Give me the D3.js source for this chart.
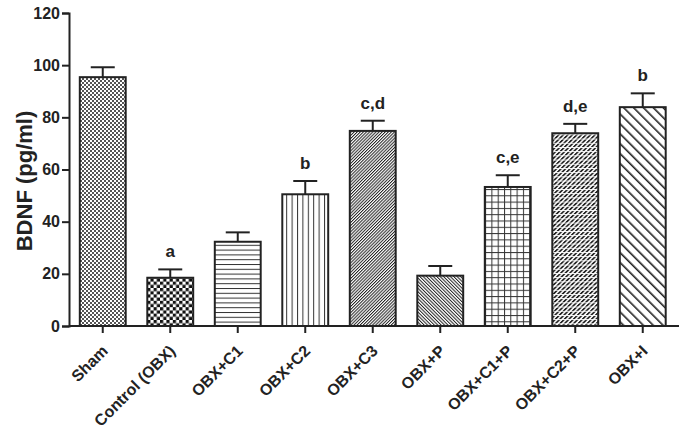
<!DOCTYPE html>
<html><head><meta charset="utf-8">
<script src="https://cdn.jsdelivr.net/npm/d3@7"></script>
<style>
html,body{margin:0;padding:0;background:#fff;}
text{font-family:"Liberation Sans",Arial,sans-serif;font-weight:bold;fill:#222;}
</style></head>
<body>
<svg id="chart" width="684" height="432"></svg>
<script>
const categories = ["Sham","Control (OBX)","OBX+C1","OBX+C2","OBX+C3","OBX+P","OBX+C1+P","OBX+C2+P","OBX+I"];
const means = [95.4, 18.5, 32.3, 50.5, 74.8, 19.3, 53.3, 73.9, 83.9];
const errors = [3.8, 3.2, 3.6, 5.1, 3.9, 3.7, 4.5, 3.6, 5.3];
const sigLabels = ["", "a", "", "b", "c,d", "", "c,e", "d,e", "b"];
const yTicks = [0, 20, 40, 60, 80, 100, 120];
const patterns = ["fineCheck","coarseCheck","hLines","vLines","diagFwd","diagBack","grid","brick","diagBackWide"];

const svg = d3.select("#chart");
const ink = "#222";
const x = d3.scaleBand().domain(categories).range([69, 676.5]).paddingInner(0.32).paddingOuter(0.16);
const y = d3.scaleLinear().domain([0, 120]).range([326, 13]);

const defs = svg.append("defs");
function pat(id, w, h, transform) {
  const p = defs.append("pattern").attr("id", id).attr("patternUnits", "userSpaceOnUse")
    .attr("width", w).attr("height", h);
  if (transform) p.attr("patternTransform", transform);
  p.append("rect").attr("width", w).attr("height", h).attr("fill", "#fff");
  return p;
}
// fine checkerboard
let p = pat("fineCheck", 4, 4);
p.append("rect").attr("x",0).attr("y",0).attr("width",2).attr("height",2).attr("fill","#555");
p.append("rect").attr("x",2).attr("y",2).attr("width",2).attr("height",2).attr("fill","#555");
// coarse checkerboard
p = pat("coarseCheck", 6.4, 6.4);
p.append("rect").attr("x",0).attr("y",0).attr("width",3.2).attr("height",3.2).attr("fill","#111");
p.append("rect").attr("x",3.2).attr("y",3.2).attr("width",3.2).attr("height",3.2).attr("fill","#111");
// horizontal lines
p = pat("hLines", 10, 4.8);
p.append("rect").attr("x",0).attr("y",0).attr("width",10).attr("height",1).attr("fill","#333");
// vertical lines
p = pat("vLines", 5.4, 10);
p.append("rect").attr("x",0).attr("y",0).attr("width",1).attr("height",10).attr("fill","#333");
// diagonal forward "/"
p = pat("diagFwd", 2.2, 10, "rotate(45)");
p.append("rect").attr("x",0).attr("y",0).attr("width",1).attr("height",10).attr("fill","#222");
// diagonal back "\"
p = pat("diagBack", 2.4, 10, "rotate(-45)");
p.append("rect").attr("x",0).attr("y",0).attr("width",1).attr("height",10).attr("fill","#222");
// grid
p = pat("grid", 6.3, 6.3);
p.append("rect").attr("x",0).attr("y",0).attr("width",6.3).attr("height",1).attr("fill","#333");
p.append("rect").attr("x",0).attr("y",0).attr("width",1).attr("height",6.3).attr("fill","#333");
// brick-like thick forward diagonals
p = pat("brick", 3.2, 10, "rotate(45)");
p.append("rect").attr("x",0).attr("y",0).attr("width",1.7).attr("height",10).attr("fill","#222");
defs.append("pattern").attr("id","brickGap").attr("patternUnits","userSpaceOnUse").attr("width",10).attr("height",4.2)
  .append("rect").attr("x",0).attr("y",0).attr("width",10).attr("height",0.9).attr("fill","#fff");
// wide back diagonals
p = pat("diagBackWide", 7, 10, "rotate(-45)");
p.append("rect").attr("x",0).attr("y",0).attr("width",1.6).attr("height",10).attr("fill","#222");

// bars
const g = svg.append("g");
categories.forEach((c, i) => {
  const bx = x(c), bw = x.bandwidth();
  g.append("rect").attr("x", bx).attr("y", y(means[i])).attr("width", bw).attr("height", y(0) - y(means[i]))
    .attr("fill", `url(#${patterns[i]})`);
  if (patterns[i] === "brick") {
    g.append("rect").attr("x", bx).attr("y", y(means[i])).attr("width", bw).attr("height", y(0) - y(means[i]))
      .attr("fill", "url(#brickGap)");
  }
  g.append("rect").attr("x", bx).attr("y", y(means[i])).attr("width", bw).attr("height", y(0) - y(means[i]))
    .attr("fill", "none").attr("stroke", ink).attr("stroke-width", 2);
  const cx = bx + bw / 2;
  const top = y(means[i] + errors[i]);
  g.append("line").attr("x1", cx).attr("x2", cx).attr("y1", y(means[i])).attr("y2", top)
    .attr("stroke", ink).attr("stroke-width", 2);
  g.append("line").attr("x1", cx - 12).attr("x2", cx + 12).attr("y1", top).attr("y2", top)
    .attr("stroke", ink).attr("stroke-width", 2);
  if (sigLabels[i]) {
    g.append("text").attr("x", cx).attr("y", top - 12).attr("text-anchor", "middle")
      .attr("font-size", 17).text(sigLabels[i]);
  }
});

// y axis
const yAxis = svg.append("g").attr("transform", "translate(69,0)")
  .call(d3.axisLeft(y).tickValues(yTicks).tickSize(7).tickPadding(2).tickFormat(d3.format("d")));
yAxis.select(".domain").attr("stroke", ink).attr("stroke-width", 2);
yAxis.selectAll(".tick line").attr("stroke", ink).attr("stroke-width", 2);
yAxis.selectAll(".tick text").attr("font-size", 16).attr("font-family", "Liberation Sans, Arial, sans-serif")
  .attr("font-weight", "bold").attr("fill", ink);

// x axis
const xAxis = svg.append("g").attr("transform", "translate(0,326)")
  .call(d3.axisBottom(x).tickSize(7).tickSizeOuter(0));
xAxis.select(".domain").attr("stroke", ink).attr("stroke-width", 2).attr("d", "M69,0H679");
xAxis.selectAll(".tick line").attr("stroke", ink).attr("stroke-width", 2);
xAxis.selectAll(".tick text").attr("font-size", 16).attr("font-family", "Liberation Sans, Arial, sans-serif")
  .attr("font-weight", "bold").attr("fill", ink)
  .attr("text-anchor", "end").attr("dy", null).attr("y", 0)
  .attr("transform", "translate(6,26) rotate(-45)");

// y label
svg.append("text").attr("transform", "translate(24,181) rotate(-90)").attr("text-anchor", "middle")
  .attr("dy", "0.35em").attr("font-size", 22).text("BDNF (pg/ml)");
</script>
</body></html>
